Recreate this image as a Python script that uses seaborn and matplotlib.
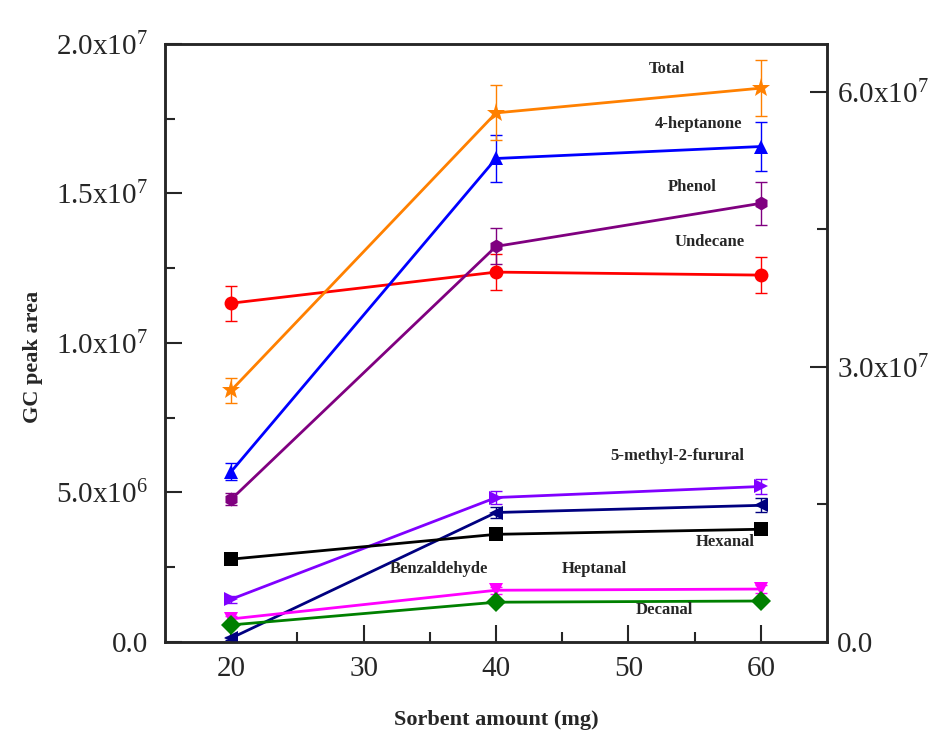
import matplotlib
matplotlib.use("Agg")
import matplotlib.pyplot as plt
import matplotlib.ticker as mticker
import numpy as np
import pandas as pd
import seaborn as sns

# Sorbent amounts (mg)
sorbent = [20, 40, 60]

# GC peak areas of individual compounds (left axis)
undecane = [1.133e7, 1.237e7, 1.227e7]
heptanone = [5.70e6, 1.617e7, 1.657e7]
phenol = [4.77e6, 1.323e7, 1.467e7]
methylfurfural = [1.43e6, 4.83e6, 5.20e6]
benzaldehyde = [0.13e6, 4.33e6, 4.57e6]
hexanal = [2.77e6, 3.60e6, 3.77e6]
heptanal = [0.77e6, 1.73e6, 1.77e6]
decanal = [0.57e6, 1.33e6, 1.37e6]

# Total peak area (right axis)
total = [2.744e7, 5.77e7, 6.04e7]

# Standard deviations
undecane_err = [0.58e6, 0.60e6, 0.60e6]
heptanone_err = [0.28e6, 0.80e6, 0.82e6]
phenol_err = [0.20e6, 0.60e6, 0.72e6]
methylfurfural_err = [0.12e6, 0.22e6, 0.25e6]
benzaldehyde_err = [0.05e6, 0.20e6, 0.23e6]
hexanal_err = [0.08e6, 0.08e6, 0.08e6]
heptanal_err = [0.10e6, 0.12e6, 0.12e6]
decanal_err = [0.05e6, 0.05e6, 0.05e6]
total_err = [1.36e6, 3.00e6, 3.05e6]

names = ["Undecane", "4-heptanone", "Phenol", "5-methyl-2-furural",
         "Benzaldehyde", "Hexanal", "Heptanal", "Decanal"]
values = [undecane, heptanone, phenol, methylfurfural,
          benzaldehyde, hexanal, heptanal, decanal]
errors = [undecane_err, heptanone_err, phenol_err, methylfurfural_err,
          benzaldehyde_err, hexanal_err, heptanal_err, decanal_err]
colors = ["#FF0000", "#0000FF", "#800080", "#8000FF",
          "#000080", "#000000", "#FF00FF", "#008000"]
markers = ["o", "^", "h", ">", "<", "s", "v", "D"]
total_color = "#FF8000"

df = pd.DataFrame({
    "amount": np.tile(sorbent, len(names)),
    "area": np.concatenate(values),
    "compound": np.repeat(names, len(sorbent)),
})
df_total = pd.DataFrame({"amount": sorbent, "area": total, "compound": "Total"})

sns.set_style("ticks")
plt.rcParams["font.family"] = ["Liberation Serif", "DejaVu Serif"]
plt.rcParams["mathtext.fontset"] = "custom"
plt.rcParams["mathtext.rm"] = "Liberation Serif"

fig = plt.figure(figsize=(9.34, 7.49), dpi=100)
ax = fig.add_axes([0.1767, 0.1429, 0.8855 - 0.1767, 0.9413 - 0.1429])
ax2 = ax.twinx()

palette = dict(zip(names, colors))
marker_map = dict(zip(names, markers))

# error bars underneath the markers
for name, v, e, c in zip(names, values, errors, colors):
    ax.errorbar(sorbent, v, yerr=e, fmt="none", ecolor=c, elinewidth=1,
                capsize=4, capthick=1, zorder=2)
ax2.errorbar(sorbent, total, yerr=total_err, fmt="none", ecolor=total_color,
             elinewidth=1, capsize=4, capthick=1, zorder=2)

sns.lineplot(data=df, x="amount", y="area", hue="compound", style="compound",
             hue_order=names, style_order=names, palette=palette,
             markers=marker_map, dashes=False, markersize=10, linewidth=2,
             markeredgewidth=0, legend=False, ax=ax, zorder=3)
sns.lineplot(data=df_total, x="amount", y="area", color=total_color,
             marker="*", markersize=14, linewidth=2, markeredgewidth=0,
             legend=False, ax=ax2, zorder=3)

# axis limits and ticks
ax.set_xlim(15, 65)
ax.set_ylim(0, 2.0e7)
ax2.set_ylim(0, 3.0e7 * 600 / 276)

ax.xaxis.set_major_locator(mticker.FixedLocator([20, 30, 40, 50, 60]))
ax.xaxis.set_minor_locator(mticker.FixedLocator([25, 35, 45, 55]))
ax.yaxis.set_major_locator(mticker.MultipleLocator(5e6))
ax.yaxis.set_minor_locator(mticker.MultipleLocator(2.5e6))
ax2.yaxis.set_major_locator(mticker.MultipleLocator(3e7))
ax2.yaxis.set_minor_locator(mticker.MultipleLocator(1.5e7))


def sci_fmt(val, pos):
    if val == 0:
        return "0.0"
    exp = int(np.floor(np.log10(abs(val))))
    mant = val / 10 ** exp
    return r"$\mathregular{%.1fx10^{%d}}$" % (mant, exp)


ax.yaxis.set_major_formatter(mticker.FuncFormatter(sci_fmt))
ax2.yaxis.set_major_formatter(mticker.FuncFormatter(sci_fmt))

for a in (ax, ax2):
    a.tick_params(axis="both", which="major", direction="in", length=12,
                  width=1.5, labelsize=21)
    a.tick_params(axis="both", which="minor", direction="in", length=7,
                  width=1.5)
    for s in a.spines.values():
        s.set_linewidth(1.8)
        s.set_visible(True)
ax.tick_params(axis="x", which="both", top=False)
ax.tick_params(axis="y", which="both", right=False, pad=12)
ax.tick_params(axis="x", pad=10)
ax2.tick_params(axis="y", which="both", left=False, pad=7)

ax.set_xlabel("Sorbent amount (mg)", fontsize=16, fontweight="bold", labelpad=20)
ax.set_ylabel("GC peak area", fontsize=16, fontweight="bold")
ax.yaxis.set_label_coords(-0.184, 0.476)
ax2.set_ylabel("")

# compound labels
labels = [
    ("Total", 52.9, 1.917e7),
    ("4-heptanone", 55.3, 1.733e7),
    ("Phenol", 54.8, 1.523e7),
    ("Undecane", 56.1, 1.337e7),
    ("5-methyl-2-furural", 53.7, 6.23e6),
    ("Hexanal", 57.3, 3.33e6),
    ("Heptanal", 47.4, 2.43e6),
    ("Decanal", 52.7, 1.07e6),
    ("Benzaldehyde", 35.7, 2.43e6),
]
for text, x, y in labels:
    ax.text(x, y, text, fontsize=12, fontweight="bold", ha="center",
            va="center", zorder=5)

fig.savefig("out.png", dpi=100)
